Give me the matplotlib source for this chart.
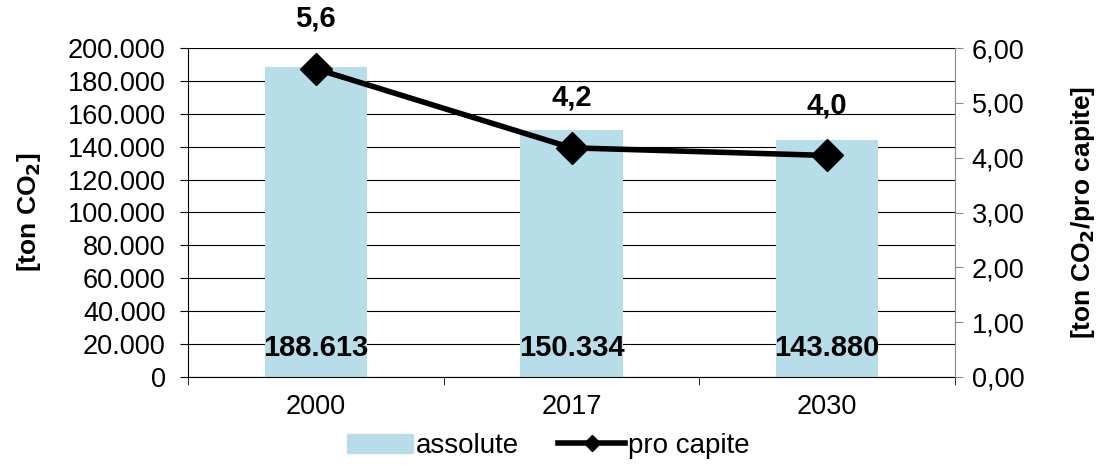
import numpy as np
import matplotlib
matplotlib.use('Agg')
import matplotlib.pyplot as plt
from matplotlib.lines import Line2D
from matplotlib.patches import Patch

plt.rcParams['font.family'] = ['Liberation Sans', 'DejaVu Sans']

years = ['2000', '2017', '2030']
assolute = [188613, 150334, 143880]
pro_capite = [5.62, 4.18, 4.04]

bar_col = '#b7dde8'

fig = plt.figure(figsize=(10.96, 4.66), dpi=100)
ax1 = fig.add_axes([188/1096, 1-377/466, (955-188)/1096, (377-48)/466])
ax2 = ax1.twinx()

x = np.arange(len(years))
ax1.bar(x, assolute, width=0.4, color=bar_col, zorder=2)
ax1.set_xlim(-0.5, len(years)-0.5)
ax1.set_ylim(0, 200000)
ax1.set_yticks(np.arange(0, 200001, 20000))
ax1.set_yticklabels([f'{v:,}'.replace(',', '.') for v in range(0, 200001, 20000)], fontsize=19.5)
ax1.yaxis.grid(True, color='black', linewidth=0.8, zorder=0)
ax1.set_axisbelow(True)
ax1.set_xticks(x)
ax1.set_xticklabels(years, fontsize=19.5)
ax1.tick_params(axis='x', length=0, pad=12)
ax1.set_xticks(np.arange(-0.5, len(years), 1), minor=True)
ax1.tick_params(axis='x', which='minor', length=6, direction='out', color='black')
ax1.tick_params(axis='y', length=6, color='black', pad=10)
for s in ['top', 'right']:
    ax1.spines[s].set_visible(False)
ax1.spines['left'].set_color('black')
ax1.spines['bottom'].set_color('black')
ax1.set_ylabel('[ton CO$_\\mathbf{2}$]', fontsize=19, fontweight='bold', labelpad=18)

for xi, v in zip(x, assolute):
    ax1.text(xi, 17500, f'{v:,}'.replace(',', '.'), ha='center', va='center',
             fontsize=21, fontweight='bold', zorder=5)

ax2.plot(x, pro_capite, color='black', linewidth=4, marker='D', markersize=16,
         zorder=4)
ax2.set_ylim(0, 6)
ax2.set_yticks(np.arange(0, 6.01, 1))
ax2.set_yticklabels([f'{v:.2f}'.replace('.', ',') for v in np.arange(0, 6.01, 1)], fontsize=19.5)
ax2.tick_params(axis='y', length=6, color='#888888', pad=6)
for s in ['top', 'left', 'bottom']:
    ax2.spines[s].set_visible(False)
ax2.spines['right'].set_color('#888888')
ax2.set_ylabel('[ton CO$_\\mathbf{2}$/pro capite]', fontsize=19, fontweight='bold', labelpad=32)

for xi, v in zip(x, pro_capite):
    ax2.annotate(f'{v:.1f}'.replace('.', ','), (xi, v), xytext=(0, 36),
                 textcoords='offset points', ha='center', va='center',
                 fontsize=21, fontweight='bold')

handles = [Patch(color=bar_col, label='assolute'),
           Line2D([0], [0], color='black', linewidth=4, marker='D', markersize=8,
                  label='pro capite')]
fig.legend(handles=handles, loc='center', bbox_to_anchor=(0.5, 1-446/466), ncol=2,
           frameon=False, fontsize=20, handlelength=2.4, handletextpad=0.1,
           columnspacing=1.4)

fig.savefig('out.png', dpi=100)
